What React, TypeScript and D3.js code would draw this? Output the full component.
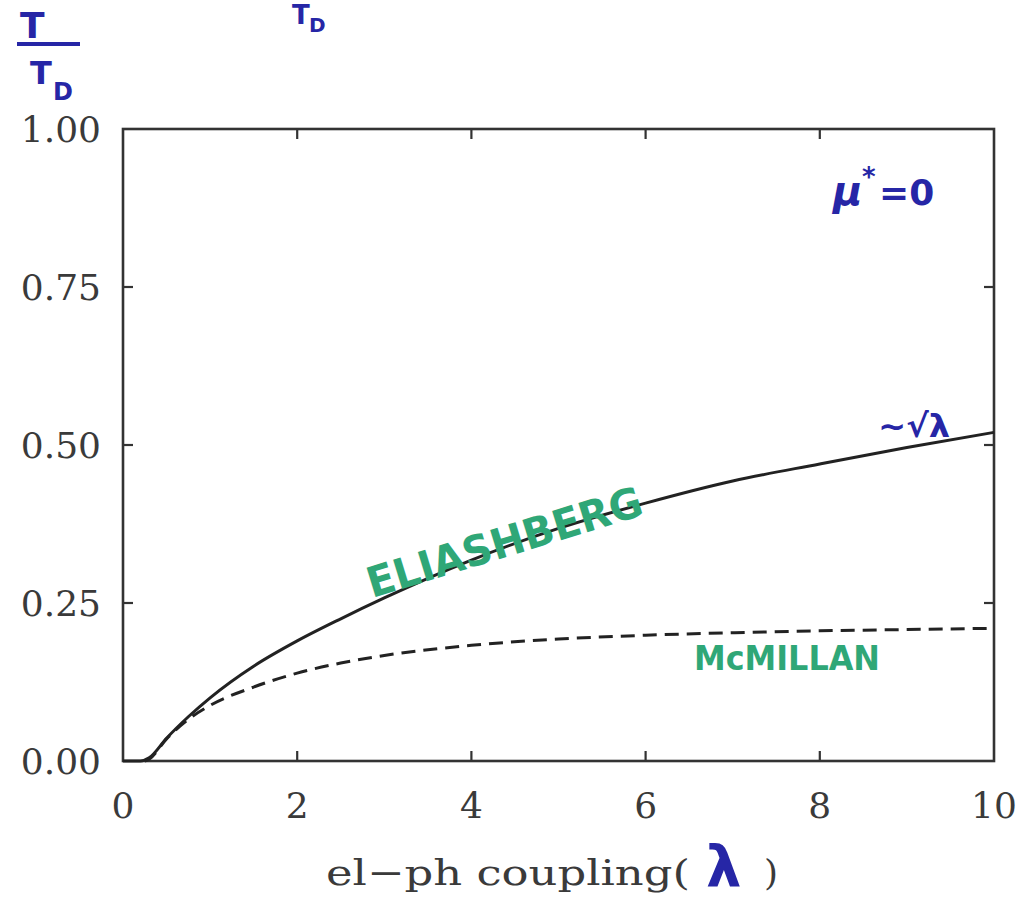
import React from "react";
import * as d3 from "d3";

const xTicks = [0, 2, 4, 6, 8, 10];
const yTicks = [0, 0.25, 0.5, 0.75, 1];
const yTickLabels = ["0.00", "0.25", "0.50", "0.75", "1.00"];

const lambdaEl = [0, 0.2, 0.3, 0.5, 0.75, 1, 1.5, 2, 2.5, 3, 4, 5, 6, 7, 8, 9, 10];
const tcEl = [0, 0, 0.005, 0.036, 0.07, 0.1, 0.15, 0.19, 0.225, 0.258, 0.318, 0.368, 0.408, 0.443, 0.47, 0.496, 0.52];

const lambdaMc = [0.25, 0.3, 0.5, 0.75, 1, 1.5, 2, 2.5, 3, 4, 5, 6, 7, 8, 9, 10];
const tcMc = [0, 0.003, 0.035, 0.066, 0.088, 0.117, 0.139, 0.155, 0.167, 0.183, 0.193, 0.199, 0.203, 0.206, 0.208, 0.21];

const W = 1022;
const H = 916;
const L = 123, R = 994, T = 129, B = 761;

export default function App() {
  const x = d3.scaleLinear().domain([0, 10]).range([L, R]);
  const y = d3.scaleLinear().domain([0, 1]).range([B, T]);
  const line = d3
    .line<[number, number]>()
    .x((d) => x(d[0]))
    .y((d) => y(d[1]))
    .curve(d3.curveMonotoneX);
  const elPts = lambdaEl.map((l, i) => [l, tcEl[i]] as [number, number]);
  const mcPts = lambdaMc.map((l, i) => [l, tcMc[i]] as [number, number]);
  const ink = "#333";
  const blue = "#2626a6";
  const green = "#2fa777";
  const serif = "'DejaVu Serif', serif";
  const hand = "'DejaVu Sans', sans-serif";
  const tk = 10;
  return (
    <svg
      width={W}
      height={H}
      style={{ position: "absolute", left: 0, top: 0, background: "#fff" }}
    >
      <rect x={0} y={0} width={W} height={H} fill="#fff" />
      {/* frame */}
      <rect
        x={x(0)}
        y={y(1)}
        width={x(10) - x(0)}
        height={y(0) - y(1)}
        fill="none"
        stroke={ink}
        strokeWidth={2.6}
      />
      {/* ticks */}
      {xTicks.slice(1, -1).map((t) => (
        <g key={"xt" + t}>
          <line x1={x(t)} x2={x(t)} y1={y(0)} y2={y(0) - tk} stroke={ink} strokeWidth={2.2} />
          <line x1={x(t)} x2={x(t)} y1={y(1)} y2={y(1) + tk} stroke={ink} strokeWidth={2.2} />
        </g>
      ))}
      {yTicks.slice(1, -1).map((t) => (
        <g key={"yt" + t}>
          <line x1={x(0)} x2={x(0) + tk} y1={y(t)} y2={y(t)} stroke={ink} strokeWidth={2.2} />
          <line x1={x(10)} x2={x(10) - tk} y1={y(t)} y2={y(t)} stroke={ink} strokeWidth={2.2} />
        </g>
      ))}
      {/* tick labels */}
      {xTicks.map((t) => (
        <text
          key={"xl" + t}
          x={x(t)}
          y={818}
          textAnchor="middle"
          fontFamily={serif}
          fontSize={36}
          fill="#3a3a3a"
        >
          {t}
        </text>
      ))}
      {yTicks.map((t, i) => (
        <text
          key={"yl" + t}
          x={101}
          y={y(t) + 13}
          textAnchor="end"
          fontFamily={serif}
          fontSize={36}
          fill="#3a3a3a"
        >
          {yTickLabels[i]}
        </text>
      ))}
      {/* curves */}
      <path d={line(elPts) || ""} fill="none" stroke="#222" strokeWidth={3} />
      <path
        d={line(mcPts) || ""}
        fill="none"
        stroke="#222"
        strokeWidth={3}
        strokeDasharray="14 8"
      />
      {/* axis title */}
      <text
        x={326}
        y={885}
        fontFamily={serif}
        fontSize={36}
        fill="#3a3a3a"
        textLength={364}
        lengthAdjust="spacingAndGlyphs"
      >
        el−ph coupling(
      </text>
      <text x={706} y={886} fontFamily={hand} fontSize={56} fontWeight="bold" fill={blue}>
        λ
      </text>
      <text x={764} y={885} fontFamily={serif} fontSize={36} fill="#3a3a3a">
        )
      </text>
      {/* y title T/T_D */}
      <g fill={blue} fontFamily={hand} fontWeight="bold">
        <text x={20} y={38} fontSize={36}>T</text>
        <line x1={17} x2={80} y1={44} y2={44} stroke={blue} strokeWidth={4} />
        <text x={30} y={84} fontSize={32}>T</text>
        <text x={53} y={100} fontSize={24}>D</text>
      </g>
      {/* partially visible text at top */}
      <g fill={blue} fontFamily={hand} fontWeight="bold">
        <text x={292} y={24} fontSize={26}>T</text>
        <text x={309} y={32} fontSize={20}>D</text>
      </g>
      {/* annotations */}
      <text x={833} y={205} fontFamily={hand} fontStyle="italic" fontWeight="bold" fontSize={40} fill={blue}>
        μ
      </text>
      <text x={862} y={186} fontFamily={hand} fontWeight="bold" fontSize={26} fill={blue}>
        *
      </text>
      <text x={879} y={205} fontFamily={hand} fontWeight="bold" fontSize={36} fill={blue}>
        =0
      </text>
      <text
        x={878}
        y={437}
        fontFamily={hand}
        fontWeight="bold"
        fontSize={32}
        fill={blue}
        textLength={72}
        lengthAdjust="spacingAndGlyphs"
      >
        ~√λ
      </text>
      <text
        transform={`translate(${372},${598}) rotate(-17)`}
        fontFamily={hand}
        fontWeight="bold"
        fontSize={42}
        fill={green}
        textLength={286}
        lengthAdjust="spacingAndGlyphs"
      >
        ELIASHBERG
      </text>
      <text
        x={694}
        y={670}
        fontFamily={hand}
        fontWeight="bold"
        fontSize={34}
        fill={green}
        textLength={186}
        lengthAdjust="spacingAndGlyphs"
      >
        McMILLAN
      </text>
    </svg>
  );
}
